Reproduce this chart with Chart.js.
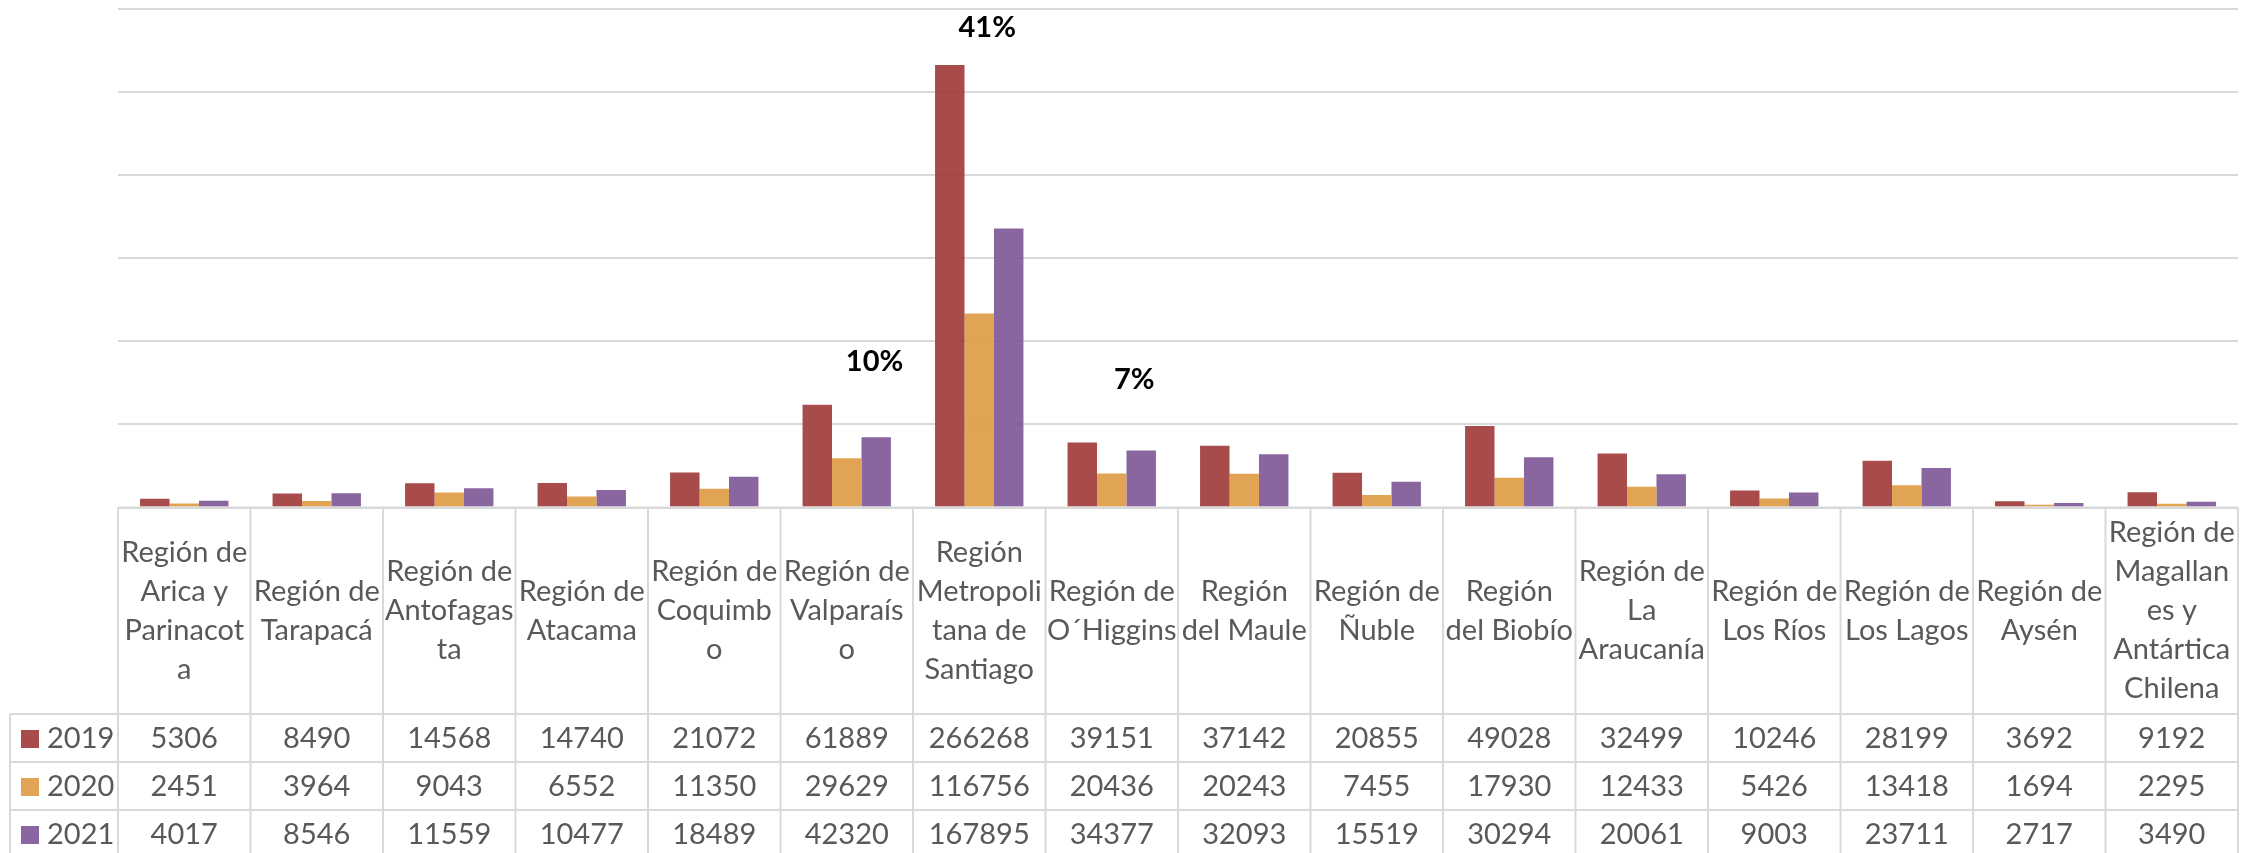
<!DOCTYPE html>
<html>
<head>
<meta charset="utf-8">
<script src="https://cdn.jsdelivr.net/npm/chart.js@4.4.1/dist/chart.umd.min.js"></script>
<style>
  html, body { margin: 0; padding: 0; background: #fff; }
  #wrap { width: 2262px; height: 853px; position: relative; }
</style>
</head>
<body>
<div id="wrap"><canvas id="chart"></canvas></div>
<script>
// ---- Data ----
const regions = [
  ['Región de', 'Arica y', 'Parinacot', 'a'],
  ['Región de', 'Tarapacá'],
  ['Región de', 'Antofagas', 'ta'],
  ['Región de', 'Atacama'],
  ['Región de', 'Coquimb', 'o'],
  ['Región de', 'Valparaís', 'o'],
  ['Región', 'Metropoli', 'tana de', 'Santiago'],
  ['Región de', 'O´Higgins'],
  ['Región', 'del Maule'],
  ['Región de', 'Ñuble'],
  ['Región', 'del Biobío'],
  ['Región de', 'La', 'Araucanía'],
  ['Región de', 'Los Ríos'],
  ['Región de', 'Los Lagos'],
  ['Región de', 'Aysén'],
  ['Región de', 'Magallan', 'es y', 'Antártica', 'Chilena']
];
const years = ['2019', '2020', '2021'];
const values2019 = [5306, 8490, 14568, 14740, 21072, 61889, 266268, 39151, 37142, 20855, 49028, 32499, 10246, 28199, 3692, 9192];
const values2020 = [2451, 3964, 9043, 6552, 11350, 29629, 116756, 20436, 20243, 7455, 17930, 12433, 5426, 13418, 1694, 2295];
const values2021 = [4017, 8546, 11559, 10477, 18489, 42320, 167895, 34377, 32093, 15519, 30294, 20061, 9003, 23711, 2717, 3490];
const yTicks = [0, 50000, 100000, 150000, 200000, 250000, 300000];

// share callouts: category index, label, height (in data units)
const calloutIndex = [5, 6, 7];
const calloutText = ['10%', '41%', '7%'];
const calloutLevel = [88000, 288500, 76700];
const calloutShift = [0.21, 0.06, 0.17]; // fraction of a category to the right

const seriesColors = ['rgba(158,55,55,0.9)', 'rgba(222,154,67,0.9)', 'rgba(124,85,150,0.9)'];
const swatchColors = ['#a84b4b', '#e1a456', '#8966a1'];
const textColor = '#595959';
const lineColor = '#d9d9d9';
const FONT = 'Lato, "Open Sans", sans-serif';

// ---- Data table + callouts drawn under the plot ----
const dataTablePlugin = {
  id: 'dataTable',
  afterDraw(chart) {
    const { ctx, chartArea, scales } = chart;
    const xs = scales.x;
    const n = regions.length;
    const colW = (chartArea.right - chartArea.left) / n;
    const top = chartArea.bottom;
    const headerBottom = 714;
    const rowH = 48;
    const legendLeft = 10;
    const rows = [values2019, values2020, values2021];

    ctx.save();
    ctx.strokeStyle = lineColor;
    ctx.lineWidth = 2;

    // horizontal lines
    ctx.beginPath();
    ctx.moveTo(chartArea.left, top); ctx.lineTo(chartArea.right, top);
    for (let r = 0; r < 3; r++) {
      const y = headerBottom + r * rowH;
      ctx.moveTo(legendLeft, y); ctx.lineTo(chartArea.right, y);
    }
    // vertical lines
    for (let c = 0; c <= n; c++) {
      const x = chartArea.left + c * colW;
      ctx.moveTo(x, top); ctx.lineTo(x, 853);
    }
    ctx.moveTo(legendLeft, headerBottom); ctx.lineTo(legendLeft, 853);
    ctx.stroke();

    // header labels
    ctx.fillStyle = textColor;
    ctx.textAlign = 'center';
    ctx.textBaseline = 'middle';
    ctx.font = '29px ' + FONT;
    const lineH = 39;
    const midHeader = (top + headerBottom) / 2;
    regions.forEach((lines, i) => {
      const cx = xs.getPixelForValue(i);
      const y0 = midHeader - (lines.length - 1) * lineH / 2;
      lines.forEach((t, k) => ctx.fillText(t, cx, y0 + k * lineH));
    });

    // values rows
    rows.forEach((vals, r) => {
      const cy = headerBottom + r * rowH + rowH / 2 + 1;
      vals.forEach((v, i) => {
        ctx.fillText(String(v), xs.getPixelForValue(i), cy);
      });
      // legend key
      ctx.fillStyle = swatchColors[r];
      ctx.fillRect(21, cy - 9, 18, 18);
      ctx.fillStyle = textColor;
      ctx.textAlign = 'left';
      ctx.fillText(years[r], 47, cy);
      ctx.textAlign = 'center';
    });

    // share callouts
    ctx.fillStyle = '#000';
    ctx.font = 'bold 29px ' + FONT;
    calloutIndex.forEach((idx, k) => {
      const x = xs.getPixelForValue(idx) + colW * calloutShift[k];
      const y = scales.y.getPixelForValue(calloutLevel[k]);
      ctx.fillText(calloutText[k], x, y);
    });
    ctx.restore();
  }
};

new Chart(document.getElementById('chart'), {
  type: 'bar',
  data: {
    labels: regions.map(l => l.join(' ')),
    datasets: [
      { label: years[0], data: values2019, backgroundColor: seriesColors[0] },
      { label: years[1], data: values2020, backgroundColor: seriesColors[1] },
      { label: years[2], data: values2021, backgroundColor: seriesColors[2] }
    ]
  },
  options: {
    responsive: true,
    maintainAspectRatio: false,
    animation: false,
    layout: { padding: { left: 118, right: 24, top: 9, bottom: 345.5 } },
    datasets: { bar: { categoryPercentage: 0.667, barPercentage: 1.0 } },
    plugins: { legend: { display: false }, tooltip: { enabled: false } },
    scales: {
      x: { display: false },
      y: {
        min: yTicks[0],
        max: yTicks[yTicks.length - 1],
        afterBuildTicks: (scale) => { scale.ticks = yTicks.map(v => ({ value: v })); },
        afterFit: (scale) => { scale.width = 0; },
        ticks: { display: false },
        border: { display: false },
        grid: { color: lineColor, lineWidth: 2, drawTicks: false }
      }
    }
  },
  plugins: [dataTablePlugin]
});
</script>
</body>
</html>
